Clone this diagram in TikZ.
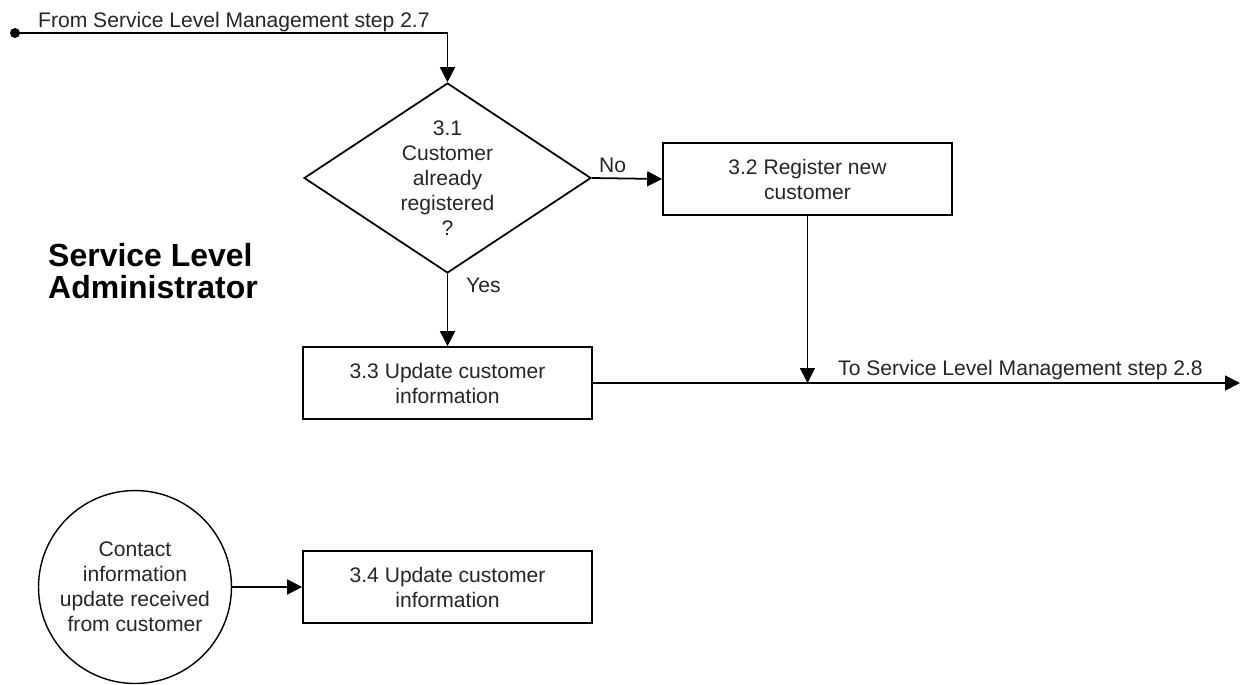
\documentclass[tikz,border=0pt]{standalone}
\usepackage{fontspec}
\setmainfont{Liberation Sans}
\usetikzlibrary{arrows.meta,shapes.geometric}
\begin{document}
\begin{tikzpicture}[x=0.02cm,y=-0.02cm,
    every node/.style={font=\fontsize{12}{14.2}\selectfont, text=black!85},
    stepbox/.style={draw, line width=1pt, minimum width=5.78cm, minimum height=1.44cm, inner sep=0, align=center},
    decision/.style={draw, diamond, line width=1pt, minimum width=5.74cm, minimum height=3.8cm, inner sep=0},
    trigger/.style={draw, circle, line width=0.8pt, minimum size=3.86cm, inner sep=0, align=center},
    flow/.style={line width=1pt, -{Triangle[length=0.3cm,width=0.3cm]}}]
    \useasboundingbox (0,0) rectangle (1247,684);

    \coordinate (start) at (15,33);
    \fill (start) circle (0.1cm);
    \node[anchor=base west] (from) at (32,27) {From Service Level Management step 2.7};

    \node[decision] (d31) at (447.5,178) {};
    \node[align=center] (q31) at (d31) {3.1\\Customer\\already\\registered\\?};
    \node[stepbox] (b32) at (807.5,179) {3.2 Register new\\customer};
    \node[stepbox] (b33) at (447.5,383) {3.3 Update customer\\information};
    \node[trigger] (c34) at (135,587) {Contact\\information\\update received\\from customer};
    \node[stepbox] (b34) at (447.5,587) {3.4 Update customer\\information};

    \node[font=\bfseries\fontsize{18.2}{18.4}\selectfont, align=left, anchor=west, text=black] (role) at (42,271) {Service Level\\Administrator};

    \node[anchor=base west] (no) at (593,172) {No};
    \node[anchor=base west] (yes) at (460,292) {Yes};
    \node[anchor=base west] (to) at (832,375) {To Service Level Management step 2.8};

    \coordinate (exit) at (1240,383);
    \draw[flow] (start) -- (start -| d31.north) -- (d31.north);
    \draw[flow] (d31.east) -- (b32.west);
    \draw[flow] (d31.south) -- (b33.north);
    \draw[flow] (b33.east) -- (exit);
    \draw[flow] (b32.south) -- (b32.south |- exit);
    \draw[flow] (c34.east) -- (b34.west);
\end{tikzpicture}
\end{document}
